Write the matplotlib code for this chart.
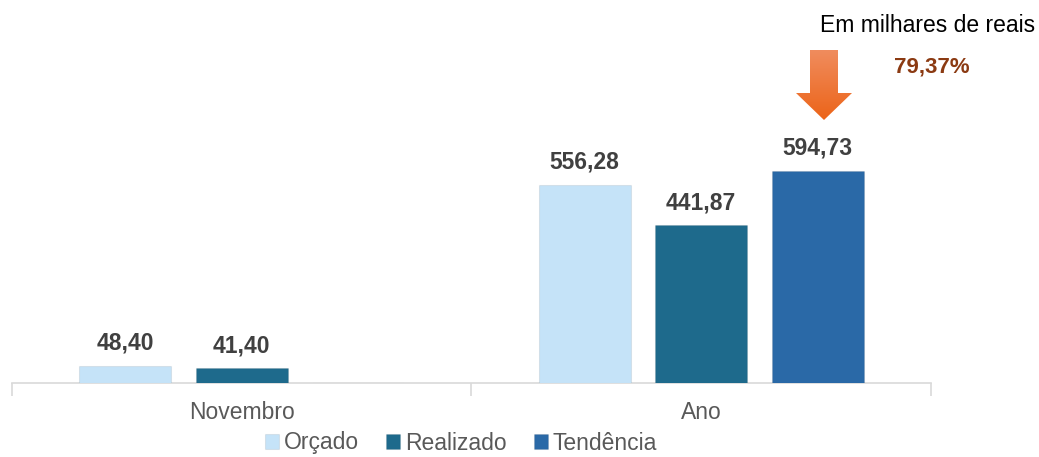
import matplotlib.pyplot as plt
import matplotlib.patches as mpatches
from matplotlib.colors import LinearSegmentedColormap
import numpy as np

plt.rcParams['font.family'] = ['Liberation Sans', 'DejaVu Sans']

categorias = ['Novembro', 'Ano']
orcado = [48.40, 556.28]
realizado = [41.40, 441.87]
tendencia = [np.nan, 594.73]
series = ['Orçado', 'Realizado', 'Tendência']
cores = ['#C5E3F8', '#1E6A8C', '#2A69A7']
nota = 'Em milhares de reais'
percentual = '79,37%'

W, H = 1039, 457
fig = plt.figure(figsize=(W / 100, H / 100), dpi=100)
ax = fig.add_axes([12 / W, 74 / H, 919 / W, 373 / H])

x = np.arange(len(categorias))
larg = 0.2
passo = 0.2535
valores = [orcado, realizado, tendencia]
for i, (vals, cor, nome) in enumerate(zip(valores, cores, series)):
    pos = x + (i - 1) * passo
    v = np.nan_to_num(np.array(vals, dtype=float))
    ax.bar(pos, v, width=larg, color=cor, label=nome, zorder=3,
           edgecolor='#00000012', linewidth=0.8)
    for p, val in zip(pos, vals):
        if np.isnan(val):
            continue
        ax.text(p, val + 31, f'{val:.2f}'.replace('.', ','), ha='center', va='bottom',
                fontsize=16.5, fontweight='bold', color='#404040')

ax.set_xlim(-0.5, 1.5)
ax.set_ylim(0, 373 / (212 / 594.73))
for s in ['top', 'right', 'left']:
    ax.spines[s].set_visible(False)
ax.spines['bottom'].set_color('#D9D9D9')
ax.spines['bottom'].set_linewidth(1.2)
ax.set_yticks([])
ax.set_xticks([-0.5, 0.5, 1.5], minor=False)
ax.set_xticklabels([])
ax.tick_params(axis='x', length=9, color='#D9D9D9', width=1.2)
ax.set_xticks(x, minor=True)
ax.set_xticklabels(categorias, minor=True)
ax.tick_params(axis='x', which='minor', length=0, pad=13, labelsize=16.5, labelcolor='#595959')

leg = fig.legend(loc='center', bbox_to_anchor=(461 / W, 1 - 443 / H), ncol=3, frameon=False,
                 fontsize=16.5, handlelength=0.6, handleheight=0.6, handletextpad=0.2,
                 columnspacing=1.2, labelcolor='#595959')

# seta laranja com degradê
def fx(px):
    return px / W

def fy(py):
    return 1 - py / H

verts = [(810, 50), (838, 50), (838, 93), (852, 93), (824, 120), (796, 93), (810, 93)]
sombra = mpatches.Polygon([(fx(a + 2), fy(b + 3)) for a, b in verts], closed=True,
                          transform=fig.transFigure, facecolor='#00000022', edgecolor='none',
                          zorder=-1)
fig.patches.append(sombra)
ax_seta = fig.add_axes([fx(796), fy(120), fx(852) - fx(796), fy(50) - fy(120)])
ax_seta.set_zorder(5)
ax_seta.set_axis_off()
ax_seta.patch.set_alpha(0)
ax_seta.set_xlim(0, 1)
ax_seta.set_ylim(0, 1)
grad = np.linspace(1, 0, 100).reshape(-1, 1)
cmap = LinearSegmentedColormap.from_list('laranja', ['#EC6418', '#F08C5E'])
img = ax_seta.imshow(grad, cmap=cmap, extent=(0, 1, 0, 1), aspect='auto', origin='upper')
seta = mpatches.Polygon([(fx(a), fy(b)) for a, b in verts], closed=True,
                        transform=fig.transFigure, facecolor='none', edgecolor='none')
img.set_clip_path(seta)

fig.text(fx(1035), fy(25), nota, ha='right', va='center', fontsize=16.5, color='black')
fig.text(fx(932), fy(67), percentual, ha='center', va='center', fontsize=16,
         fontweight='bold', color='#8B3A12')

fig.savefig('out.png', dpi=100)
